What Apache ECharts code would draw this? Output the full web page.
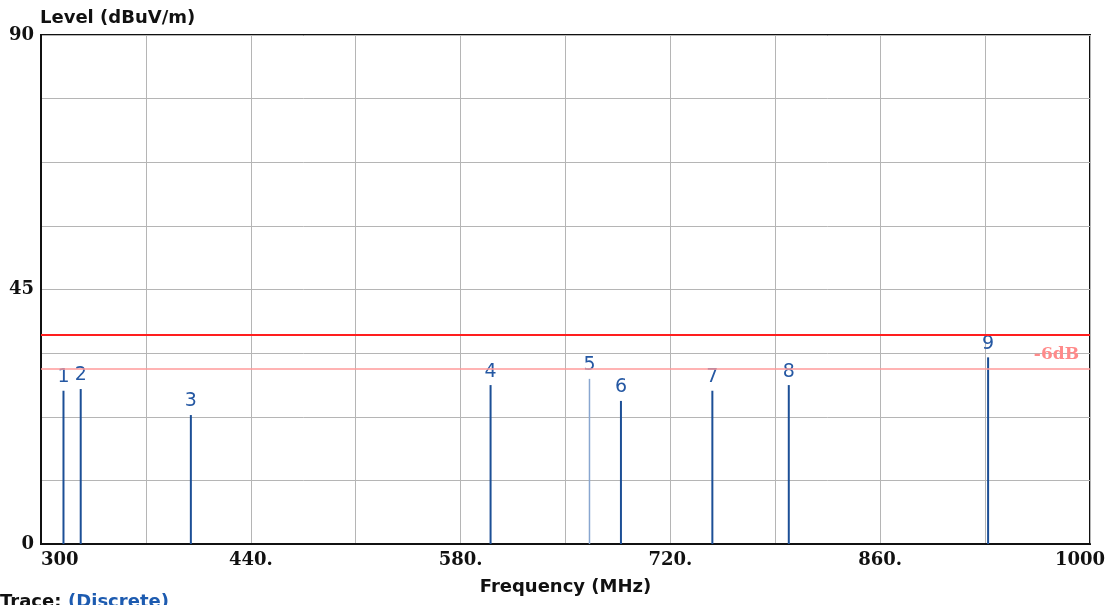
<!DOCTYPE html>
<html>
<head>
<meta charset="utf-8">
<script src="https://cdn.jsdelivr.net/npm/echarts@6/dist/echarts.min.js"></script>
<style>
  html, body { margin: 0; padding: 0; background: #fff; }
  #chart { width: 1114px; height: 605px; }
</style>
</head>
<body>
<div id="chart"></div>
<script>
// Discrete emission peaks: marker number, frequency (MHz), level (dBuV/m)
const peakIds    = [1, 2, 3, 4, 5, 6, 7, 8, 9];
const peakFreq   = [315, 326.5, 400, 600, 666, 687, 748, 799, 932];
const peakLevel  = [27.1, 27.4, 22.8, 28.1, 29.2, 25.3, 27.1, 28.1, 33.0];

// Limit line and the -6 dB margin below it
const limitLevel  = 37;
const marginLevel = 31;
const marginText  = '-6dB';

// Axis tick labels
const xTickValues = [300, 440, 580, 720, 860, 1000];
const xTickLabels = ['300', '440.', '580.', '720.', '860.', '1000'];
const yTickValues = [0, 45, 90];
const yTickLabels = ['0', '45', '90'];

// Peaks drawn in a paler stroke
const palePeaks = [5];

const peakData = peakFreq.map((f, i) => [f, peakLevel[i], peakIds[i]]);

const chart = echarts.init(document.getElementById('chart'), null, { renderer: 'canvas' });

const tickFont = {
  fontFamily: '"DejaVu Serif", serif',
  fontWeight: 'bold',
  fontSize: 18,
  color: '#111'
};

chart.setOption({
  animation: false,
  backgroundColor: '#fff',
  grid: {
    left: 41, right: 24, top: 35, bottom: 61,
    show: true, borderColor: '#111', borderWidth: 2, backgroundColor: 'transparent'
  },
  title: {
    text: 'Level (dBuV/m)',
    left: 35, top: 4,
    textStyle: { fontFamily: '"DejaVu Sans", sans-serif', fontWeight: 'bold', fontSize: 18, color: '#111' }
  },
  xAxis: {
    type: 'value',
    min: 300, max: 1000, interval: 70,
    name: 'Frequency (MHz)',
    nameLocation: 'middle',
    nameGap: 34,
    nameTextStyle: { fontFamily: '"DejaVu Sans", sans-serif', fontWeight: 'bold', fontSize: 18, color: '#111' },
    axisLine: { show: true, lineStyle: { color: '#111', width: 2 } },
    axisTick: { show: false },
    axisLabel: Object.assign({
      margin: 7,
      showMinLabel: true, showMaxLabel: true,
      alignMinLabel: 'left',
      formatter: v => {
        const k = xTickValues.indexOf(v);
        if (k < 0) return '';
        return k === xTickValues.length - 1 ? '{last|' + xTickLabels[k] + '}' : xTickLabels[k];
      },
      rich: {
        last: Object.assign({ padding: [0, 20, 0, 0] }, tickFont)
      }
    }, tickFont),
    splitLine: { show: true, lineStyle: { color: '#b5b5b5', width: 1 } }
  },
  yAxis: {
    type: 'value',
    min: 0, max: 90, interval: 11.25,
    axisLine: { show: true, lineStyle: { color: '#111', width: 2 } },
    axisTick: { show: false },
    axisLabel: Object.assign({
      margin: 7,
      showMinLabel: true, showMaxLabel: true,
      formatter: v => {
        const k = yTickValues.indexOf(Math.round(v * 100) / 100);
        return k >= 0 ? yTickLabels[k] : '';
      }
    }, tickFont),
    splitLine: { show: true, lineStyle: { color: '#b5b5b5', width: 1 } }
  },
  graphic: [{
    type: 'text',
    left: 0, top: 593,
    style: {
      text: '{a|Trace:}  {b|(Discrete)}',
      rich: {
        a: { fontFamily: '"DejaVu Sans", sans-serif', fontWeight: 'bold', fontSize: 18, fill: '#111' },
        b: { fontFamily: '"DejaVu Sans", sans-serif', fontWeight: 'bold', fontSize: 18, fill: '#1d5bb0' }
      }
    }
  }],
  series: [{
    type: 'custom',
    data: peakData,
    clip: false,
    renderItem: (params, api) => {
      const base = api.coord([api.value(0), 0]);
      const top = api.coord([api.value(0), api.value(1)]);
      const id = api.value(2);
      const pale = palePeaks.indexOf(id) >= 0;
      return {
        type: 'group',
        children: [{
          type: 'line',
          shape: { x1: base[0], y1: base[1], x2: top[0], y2: top[1] },
          style: { stroke: pale ? '#88a6d0' : '#1c4f96', lineWidth: pale ? 1.5 : 2 }
        }, {
          type: 'text',
          style: {
            x: top[0], y: top[1] - 4,
            text: String(id),
            align: 'center', verticalAlign: 'bottom',
            fontFamily: '"DejaVu Sans", sans-serif', fontSize: 19,
            fill: '#2558a3'
          }
        }]
      };
    },
    markLine: {
      silent: true,
      symbol: 'none',
      animation: false,
      data: [{
        yAxis: limitLevel,
        lineStyle: { color: '#ff1e1e', width: 2, type: 'solid' },
        label: { show: false }
      }, {
        yAxis: marginLevel,
        lineStyle: { color: '#ff9a9a', width: 1.5, type: 'solid' },
        label: {
          show: true,
          position: 'insideEndTop',
          formatter: marginText,
          distance: [11, 6],
          fontFamily: '"DejaVu Serif", serif',
          fontWeight: 'bold',
          fontSize: 17,
          color: '#ff8a8a'
        }
      }]
    }
  }]
});
</script>
</body>
</html>
